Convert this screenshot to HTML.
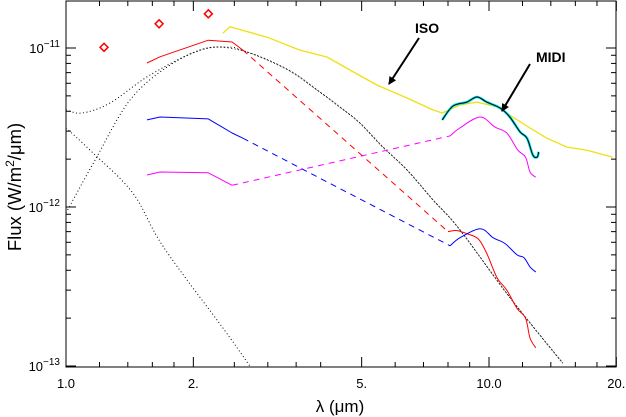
<!DOCTYPE html>
<html><head><meta charset="utf-8"><style>
html,body{margin:0;padding:0;background:#fff;}
svg{display:block;font-family:"Liberation Sans",sans-serif;}
</style></head><body>
<svg id="chart" width="626" height="417" viewBox="0 0 626 417" xmlns="http://www.w3.org/2000/svg"></svg>
<script>
// wavelengths in micron, flux in 1e-12 W/m2/um
const photLam = [1.23, 1.66, 2.17];
const photFlux = [10.1, 14.2, 16.4];
const redNirLam = [1.554, 1.668, 2.17, 2.47, 2.62];
const redNirFlux = [8.05, 8.8, 11.2, 10.9, 9.7];
const redMirLam = [8.0, 8.4, 8.86, 9.43, 9.88, 10.44, 11.02, 11.65, 12.2, 12.5, 12.9];
const redMirFlux = [0.70, 0.71, 0.68, 0.63, 0.51, 0.36, 0.30, 0.23, 0.20, 0.15, 0.13];
const blueNirLam = [1.554, 1.668, 2.17, 2.47, 2.62];
const blueNirFlux = [3.53, 3.68, 3.58, 2.92, 2.71];
const blueMirLam = [8.09, 8.53, 9.53, 10.23, 10.9, 11.65, 12.1, 12.5, 12.9];
const blueMirFlux = [0.57, 0.64, 0.73, 0.64, 0.59, 0.50, 0.48, 0.42, 0.39];
const magNirLam = [1.554, 1.668, 2.17, 2.47];
const magNirFlux = [1.59, 1.66, 1.64, 1.37];
const magMirLam = [8.09, 8.53, 9.53, 10.33, 11.02, 11.7, 12.2, 12.5, 12.9];
const magMirFlux = [2.8, 3.14, 3.68, 3.18, 2.92, 2.28, 2.06, 1.66, 1.54];
const isoLam = [2.35, 2.44, 2.99, 3.57, 4.14, 4.69, 5.43, 6.40, 7.37, 7.75, 8.53, 9.37, 10.44, 11.38, 12.5, 13.7, 15.3, 17.0, 19.6];
const isoFlux = [12.4, 13.6, 11.7, 9.7, 8.78, 7.27, 5.85, 4.85, 4.08, 3.9, 4.38, 4.57, 4.26, 3.68, 3.14, 2.71, 2.38, 2.28, 2.06];
const midiLam = [7.75, 8.22, 8.86, 9.37, 9.88, 10.63, 11.2, 11.85, 12.3, 12.7, 13.0, 13.1];
const midiFlux = [3.53, 4.32, 4.57, 4.92, 4.57, 4.19, 3.68, 2.96, 2.71, 2.12, 2.06, 2.22];
const bbLam = [1.0, 1.171, 1.417, 1.76, 2.17, 2.58, 2.99, 3.44, 3.92, 4.44, 4.95, 5.61, 6.40, 7.37, 8.53, 11.2, 14.95];
const bbFlux = [0.917, 1.97, 4.71, 7.8, 10.0, 9.7, 8.4, 6.97, 5.44, 4.25, 3.37, 2.38, 1.71, 1.11, 0.72, 0.27, 0.104];
const sumLam = [1.0, 1.091, 1.27, 1.58, 2.07, 2.44, 2.58, 2.99, 3.44, 3.92, 4.44, 4.95, 5.61, 6.40, 7.37, 8.53, 11.2, 14.95];
const sumFlux = [4.08, 3.9, 4.5, 6.76, 9.7, 10.1, 9.75, 8.45, 7.0, 5.46, 4.26, 3.38, 2.39, 1.71, 1.11, 0.72, 0.27, 0.104];
const starLam = [1.0, 1.158, 1.44, 1.70, 2.37, 2.72];
const starFlux = [3.14, 2.19, 1.22, 0.56, 0.168, 0.1];
const xTickVals = [1,1.2,1.4,1.6,1.8,2,2.5,3,3.5,4,5,6,7,8,9,10,12,14,16,18,20];
const xLabelVals = [1, 2, 5, 10, 20];
const xLabelText = ["1.0", "2.", "5.", "10.0", "20."];
const yDecades = [-13, -12, -11];

const L=66, R=616, T=1, B=367;
const X = l => L + 423*Math.log10(l);
const Y = f => 48 - 159*(Math.log10(f*1e-12)+11);
const NS="http://www.w3.org/2000/svg";
const svg=document.getElementById('chart');
function mk(tag, attrs, parent){const e=document.createElementNS(NS,tag);for(const k in attrs)e.setAttribute(k,attrs[k]);(parent||svg).appendChild(e);return e;}
function smoothPath(la,fa){
  const p=la.map((l,i)=>[X(l),Y(fa[i])]);
  let d='M'+p[0][0].toFixed(1)+','+p[0][1].toFixed(1);
  for(let i=0;i<p.length-1;i++){
    const p0=p[Math.max(0,i-1)],p1=p[i],p2=p[i+1],p3=p[Math.min(p.length-1,i+2)];
    const c1=[p1[0]+(p2[0]-p0[0])/6,p1[1]+(p2[1]-p0[1])/6];
    const c2=[p2[0]-(p3[0]-p1[0])/6,p2[1]-(p3[1]-p1[1])/6];
    d+=` C${c1[0].toFixed(1)},${c1[1].toFixed(1)} ${c2[0].toFixed(1)},${c2[1].toFixed(1)} ${p2[0].toFixed(1)},${p2[1].toFixed(1)}`;
  }
  return d;
}
function straightPath(la,fa){return la.map((l,i)=>(i?'L':'M')+X(l).toFixed(1)+','+Y(fa[i]).toFixed(1)).join(' ');}
const clip=mk('clipPath',{id:'pc'});mk('rect',{x:L,y:T,width:R-L,height:B-T},clip);
const g=mk('g',{'clip-path':'url(#pc)'});
function gl(la,fa,color,w,dash,name,smooth){
  const e=mk('path',{d:smooth?smoothPath(la,fa):straightPath(la,fa),fill:'none',stroke:color,'stroke-width':w,'stroke-linejoin':'round'},g);
  if(dash)e.setAttribute('stroke-dasharray',dash);
  
  
  return e;
}

gl(starLam,starFlux,'#000',1,'1,2.5','stellar-model-curve',true);
gl(bbLam,bbFlux,'#000',1,'1,2.5','blackbody-curve',true);
gl(sumLam,sumFlux,'#000',1,'1,2.5','total-model-curve',true);
gl(isoLam,isoFlux,'#f0e010',1.3,null,'iso-spectrum',false);
gl(redNirLam,redNirFlux,'#ff0000',1,null,'red-model-nir',false);
gl([redNirLam[redNirLam.length-1],redMirLam[0]],[redNirFlux[redNirFlux.length-1],redMirFlux[0]],'#ff0000',1,'6,5','red-model-gap',false);
gl(redMirLam,redMirFlux,'#ff0000',1,null,'red-model-mir',true);
gl(blueNirLam,blueNirFlux,'#0000ff',1,null,'blue-model-nir',false);
gl([blueNirLam[blueNirLam.length-1],blueMirLam[0]],[blueNirFlux[blueNirFlux.length-1],blueMirFlux[0]],'#0000ff',1,'6,5','blue-model-gap',false);
gl(blueMirLam,blueMirFlux,'#0000ff',1,null,'blue-model-mir',true);
gl(magNirLam,magNirFlux,'#ff00ff',1,null,'magenta-model-nir',false);
gl([magNirLam[magNirLam.length-1],magMirLam[0]],[magNirFlux[magNirFlux.length-1],magMirFlux[0]],'#ff00ff',1,'6,5','magenta-model-gap',false);
gl(magMirLam,magMirFlux,'#ff00ff',1,null,'magenta-model-mir',true);
gl(midiLam,midiFlux,'#00e8f0',2.6,null,'midi-spectrum-raw',true);
gl(midiLam,midiFlux,'#000',1,null,'midi-spectrum-smooth',true);
photLam.forEach((l,i)=>{
  const cx=X(l), cy=Y(photFlux[i]);
  const d=mk('polygon',{points:`${cx},${cy-4} ${cx+4},${cy} ${cx},${cy+4} ${cx-4},${cy}`,fill:'none',stroke:'#ff0000','stroke-width':1.5});
  
  
});

const fr=mk('rect',{x:L,y:T,width:R-L,height:B-T,fill:'none',stroke:'#000','stroke-width':1});

const ax=mk('g',{stroke:'#000','stroke-width':1});

xTickVals.forEach(v=>{
  const x=X(v), len=xLabelVals.includes(v)?10:5;
  mk('line',{x1:x,y1:B,x2:x,y2:B-len},ax);mk('line',{x1:x,y1:T,x2:x,y2:T+len},ax);
});
yDecades.forEach(d=>{
  for(let m=1;m<=9;m++){
    const yy=Y(m*Math.pow(10,d+12)); if(yy<T-0.5||yy>B+0.5)continue;
    const len=m===1?10:5;
    mk('line',{x1:L,y1:yy,x2:L+len,y2:yy},ax);mk('line',{x1:R,y1:yy,x2:R-len,y2:yy},ax);
  }
  const t=mk('text',{x:60,y:Y(Math.pow(10,d+12))+5,'text-anchor':'end','font-size':13});
  t.innerHTML=`10<tspan dy="-6" font-size="10">${'\u2212'+(-d)}</tspan>`;
  
});
xLabelVals.forEach((v,i)=>{
  const t=mk('text',{x:X(v),y:388,'text-anchor':'middle','font-size':13});
  t.textContent=xLabelText[i];
  
});

const xt=mk('text',{x:340,y:412,'text-anchor':'middle','font-size':17});xt.textContent='λ (μm)';

const yt=mk('text',{x:0,y:0,'text-anchor':'middle','font-size':18.5,transform:'translate(21,187) rotate(-90)'});
yt.innerHTML='Flux (W/m<tspan dy="-7" font-size="12">2</tspan><tspan dy="7">/μm)</tspan>';

const iso=mk('text',{x:415,y:33,'font-size':14,'font-weight':'bold'});iso.textContent='ISO';

const midi=mk('text',{x:536,y:62,'font-size':14,'font-weight':'bold'});midi.textContent='MIDI';

const defs=mk('defs',{});
defs.innerHTML='<marker id="ah" markerWidth="8" markerHeight="8" refX="7" refY="4" orient="auto" markerUnits="userSpaceOnUse"><path d="M0,0 L8,4 L0,8 z" fill="#000"/></marker>';
const a1=mk('line',{x1:419,y1:38,x2:389,y2:84,stroke:'#000','stroke-width':2,'marker-end':'url(#ah)'});

const a2=mk('line',{x1:530,y1:64,x2:502,y2:111,stroke:'#000','stroke-width':2,'marker-end':'url(#ah)'});

</script>
</body></html>
